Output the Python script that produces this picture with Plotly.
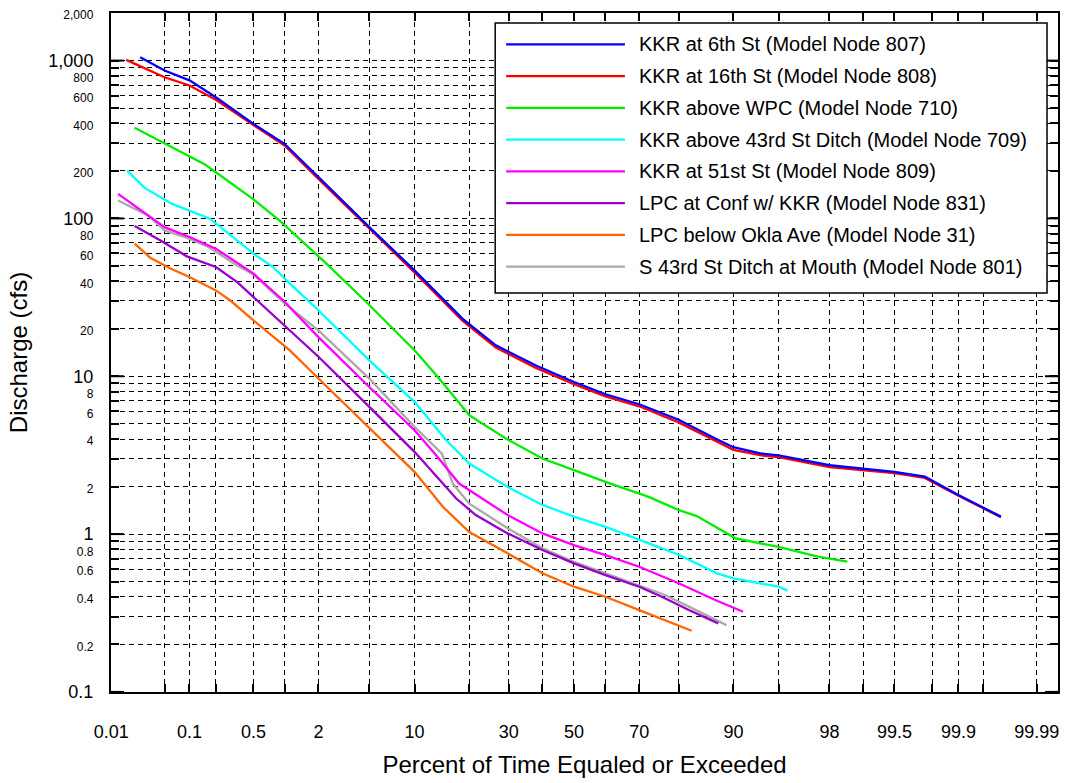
import plotly.graph_objects as go
from statistics import NormalDist

# ---------------- data (percent of time equaled or exceeded, discharge cfs) ----------------
NAMES = [
    "KKR at 6th St (Model Node 807)",
    "KKR at 16th St (Model Node 808)",
    "KKR above WPC (Model Node 710)",
    "KKR above 43rd St Ditch (Model Node 709)",
    "KKR at 51st St (Model Node 809)",
    "LPC at Conf w/ KKR (Model Node 831)",
    "LPC below Okla Ave (Model Node 31)",
    "S 43rd St Ditch at Mouth (Model Node 801)",
]
COLORS = ["#0000FF", "#FF0000", "#00EE00", "#00FFFF", "#FF00FF", "#9900CC", "#FF6600", "#AAAAAA"]

blue_pct = [0.0245, 0.05, 0.1, 0.2, 0.5, 1, 2, 5, 10, 18.5, 26.5, 38, 50, 60, 70, 80, 87.2, 90, 93.4, 95, 98, 99, 99.5, 99.76, 99.9, 99.97]
blue_q = [1050, 865, 750, 586, 397, 297, 183, 88, 46.9, 23.2, 15.7, 11.7, 9.2, 7.69, 6.65, 5.3, 4.03, 3.55, 3.24, 3.15, 2.73, 2.6, 2.48, 2.31, 1.77, 1.29]

red_pct = [0.016, 0.05, 0.1, 0.2, 0.5, 1, 2, 5, 10, 18.5, 26.5, 38, 50, 60, 70, 80, 87.2, 90, 93.4, 95, 98, 99, 99.5, 99.76, 99.9, 99.97]
red_q = [1010, 784, 695, 564, 390, 290, 178, 86, 45.5, 22.5, 15.2, 11.3, 8.9, 7.45, 6.45, 5.1, 3.9, 3.42, 3.15, 3.07, 2.66, 2.55, 2.43, 2.27, 1.75, 1.28]

green_pct = [0.0207, 0.051, 0.151, 0.2, 0.5, 0.9, 2.33, 4.9, 10, 13.7, 20, 29.2, 40, 50, 60, 72.6, 80, 83.8, 87.2, 90.3, 95, 97.5, 98.6]
green_q = [375, 297, 220, 196, 132, 97, 51.7, 28.8, 14.6, 9.9, 5.67, 4.03, 3.01, 2.54, 2.14, 1.72, 1.42, 1.3, 1.11, 0.94, 0.83, 0.72, 0.668]

cyan_pct = [0.0164, 0.028, 0.061, 0.172, 0.5, 0.78, 1.12, 2, 5, 10, 15.2, 20, 29.7, 40, 50, 60, 72.6, 80, 87.5, 90, 95, 95.7]
cyan_q = [201, 156, 124, 99.6, 59.8, 49.2, 38.6, 26.2, 12.6, 6.88, 3.94, 2.8, 1.99, 1.53, 1.29, 1.11, 0.873, 0.74, 0.564, 0.525, 0.464, 0.438]

magenta_pct = [0.0124, 0.022, 0.05, 0.1, 0.2, 0.5, 0.97, 2, 5, 10, 13.4, 17.8, 20, 29.7, 40, 50, 60, 70, 80, 87.2, 91.3]
magenta_q = [143, 118, 88, 76.2, 64.3, 44.7, 30.3, 17.7, 8.55, 4.55, 3.16, 2.09, 1.9, 1.32, 1.01, 0.852, 0.736, 0.621, 0.488, 0.382, 0.322]

purple_pct = [0.0207, 0.044, 0.093, 0.2, 0.34, 0.5, 0.84, 2, 5, 10, 17.2, 21.5, 29.7, 40, 50, 60, 70, 76, 82.2, 87.7]
purple_q = [89.4, 72.6, 57.5, 49.2, 39.5, 31.8, 23.2, 13.3, 6.4, 3.32, 1.68, 1.32, 1.01, 0.792, 0.652, 0.55, 0.464, 0.401, 0.33, 0.272]

orange_pct = [0.0207, 0.033, 0.059, 0.1, 0.2, 0.285, 0.5, 1.12, 2, 5, 10, 14.6, 20, 29.7, 40, 50, 60, 70, 82.8]
orange_q = [69.2, 56.4, 48.1, 42.5, 35, 30.3, 22.6, 14.6, 9.67, 4.67, 2.48, 1.49, 1.03, 0.755, 0.564, 0.464, 0.401, 0.33, 0.244]

gray_pct = [0.0124, 0.031, 0.05, 0.093, 0.16, 0.34, 0.5, 0.97, 2, 5, 10, 14.4, 16.5, 20, 29.7, 40, 50, 60, 70, 76.8, 82.2, 89]
gray_q = [130, 104.5, 84, 75.5, 66.5, 50.4, 44.2, 29.5, 19.5, 9.67, 4.78, 3.24, 2.09, 1.56, 1.09, 0.812, 0.668, 0.564, 0.476, 0.411, 0.347, 0.265]

SERIES = [
    (blue_pct, blue_q), (red_pct, red_q), (green_pct, green_q), (cyan_pct, cyan_q),
    (magenta_pct, magenta_q), (purple_pct, purple_q), (orange_pct, orange_q), (gray_pct, gray_q),
]
DRAW_ORDER = [7, 6, 5, 4, 3, 2, 1, 0]

X_LABELS = ["0.01", "0.1", "0.5", "2", "10", "30", "50", "70", "90", "98", "99.5", "99.9", "99.99"]
X_GRID_MINOR = [0.05, 0.2, 1, 5, 20, 40, 60, 80, 95, 99, 99.8, 99.95]

Y_MAJOR = [0.1, 1, 10, 100, 1000]
Y_MAJOR_TEXT = ["0.1", "1", "10", "100", "1,000"]
Y_SMALL = [0.2, 0.4, 0.6, 0.8, 2, 4, 6, 8, 20, 40, 60, 80, 200, 400, 600, 800, 2000]
Y_SMALL_TEXT = ["0.2", "0.4", "0.6", "0.8", "2", "4", "6", "8", "20", "40", "60", "80",
                "200", "400", "600", "800", "2,000"]
Y_GRID_MINOR = [0.3, 0.5, 0.7, 0.9, 3, 5, 7, 9, 30, 50, 70, 90, 300, 500, 700, 900]

X_TITLE = "Percent of Time Equaled or Exceeded"
Y_TITLE = "Discharge (cfs)"

# ---------------- helpers ----------------
_nd = NormalDist()


def probit(p):
    return _nd.inv_cdf(p / 100.0)


FONT = "Arial, Liberation Sans, sans-serif"
W, H = 1067, 783
L, R, T, B = 111, 1060, 13, 692  # plot area in pixels


def px_x(px):
    return (px - L) / (R - L)


def px_y(py):
    return 1 - (py - T) / (B - T)


fig = go.Figure()
for i in DRAW_ORDER:
    pct, q = SERIES[i]
    fig.add_trace(go.Scatter(
        x=[probit(p) for p in pct], y=q, mode="lines", name=NAMES[i],
        line=dict(color=COLORS[i], width=2.3), showlegend=False,
        hovertemplate="%{text}%<br>%{y} cfs<extra>" + NAMES[i] + "</extra>",
        text=[str(p) for p in pct],
    ))

GRID = dict(showgrid=True, gridcolor="#000000", griddash="5px,4px", gridwidth=1)

y_vals = Y_MAJOR + Y_SMALL
y_text = Y_MAJOR_TEXT + ['<span style="font-size:12px">%s</span>' % t for t in Y_SMALL_TEXT]

fig.update_layout(
    width=W, height=H,
    margin=dict(l=L, r=W - R, t=T, b=H - B, pad=0),
    paper_bgcolor="white", plot_bgcolor="white",
    font=dict(family=FONT, color="black"),
    showlegend=False,
    xaxis=dict(
        range=[probit(0.01) - 0.002, probit(99.995)],
        tickmode="array",
        tickvals=[probit(float(v)) for v in X_LABELS],
        ticktext=X_LABELS,
        tickangle=0,
        tickfont=dict(size=18, family=FONT),
        ticks="inside", ticklen=8, tickwidth=1.5, tickcolor="black",
        ticklabelstandoff=22,
        showline=True, linecolor="black", linewidth=2, mirror="ticks",
        zeroline=False,
        minor=dict(tickmode="array", tickvals=[probit(v) for v in X_GRID_MINOR],
                   ticks="inside", ticklen=8, tickwidth=1.5, tickcolor="black", **GRID),
        title=dict(text=X_TITLE, font=dict(size=24, family=FONT), standoff=16),
        **GRID,
    ),
    yaxis=dict(
        type="log",
        range=[-1.0005, 3.3015],
        tickmode="array",
        tickvals=y_vals,
        ticktext=y_text,
        tickfont=dict(size=18, family=FONT),
        ticks="inside", ticklen=8, tickwidth=1.5, tickcolor="black",
        ticklabelstandoff=12,
        showline=True, linecolor="black", linewidth=2, mirror="ticks",
        zeroline=False,
        minor=dict(tickmode="array", tickvals=Y_GRID_MINOR,
                   ticks="inside", ticklen=8, tickwidth=1.5, tickcolor="black", **GRID),
        title=dict(text=Y_TITLE, font=dict(size=24, family=FONT), standoff=14),
        **GRID,
    ),
)

# longer tick marks at each decade, on both sides of the frame
for v in Y_MAJOR:
    for x0, x1 in ((0, 13 / (R - L)), (1 - 13 / (R - L), 1)):
        fig.add_shape(type="line", xref="paper", yref="y", x0=x0, x1=x1, y0=v, y1=v,
                      line=dict(color="black", width=2), layer="above")

# ---------------- legend box (drawn like the original) ----------------
LEG_X0, LEG_X1, LEG_Y0, LEG_Y1 = 496, 1049, 23, 293
fig.add_shape(type="rect", xref="paper", yref="paper",
              x0=px_x(LEG_X0), x1=px_x(LEG_X1), y0=px_y(LEG_Y1), y1=px_y(LEG_Y0),
              fillcolor="white", line=dict(color="black", width=1.5), layer="above")
for k, name in enumerate(NAMES):
    yy = 44.3 + k * 31.77
    fig.add_shape(type="line", xref="paper", yref="paper",
                  x0=px_x(507), x1=px_x(626), y0=px_y(yy), y1=px_y(yy),
                  line=dict(color=COLORS[k], width=2.3), layer="above")
    fig.add_annotation(xref="paper", yref="paper", x=px_x(638), y=px_y(yy),
                       text=name, showarrow=False, xanchor="left", yanchor="middle",
                       font=dict(size=20, family=FONT, color="black"))

fig.write_html("out.html")
